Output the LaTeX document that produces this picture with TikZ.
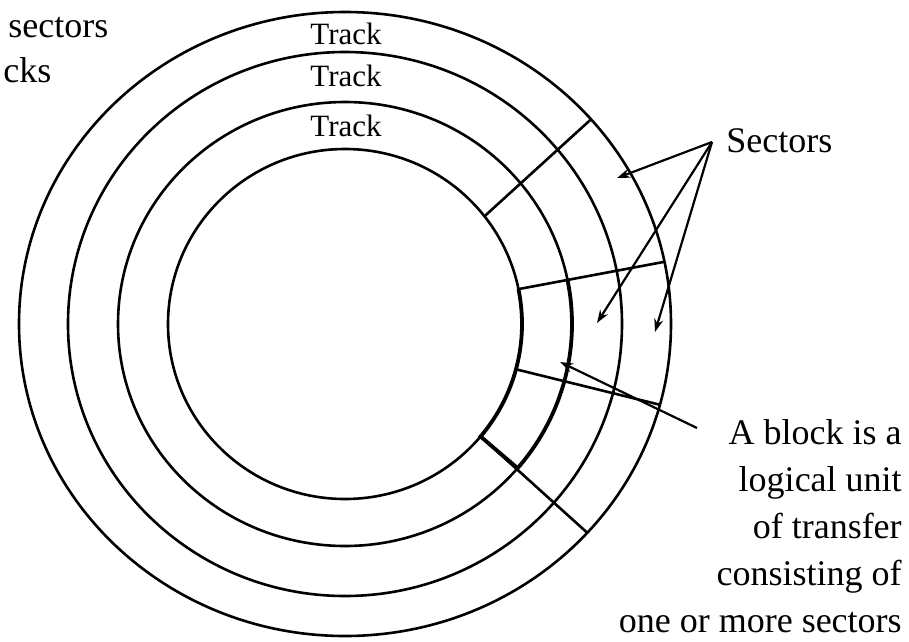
\documentclass[tikz,border=0pt]{standalone}
\usepackage{fontspec}
\setmainfont{Liberation Serif}
\usetikzlibrary{arrows.meta}

\begin{document}
\begin{tikzpicture}[x=1pt, y=1pt, line width=2.6pt,
		ptr/.style={-{Stealth[length=13pt, width=9pt]}, line width=2.2pt},
		blk/.style={line width=3.8pt},
		tracklbl/.style={font=\fontsize{31}{31}\selectfont, inner sep=0pt},
		note/.style={font=\fontsize{36}{47}\selectfont, inner sep=0pt}]
		\useasboundingbox (-345,-317) rectangle (564,324);

		% Tracks
		\foreach \rx/\ry in {177/175, 227/222, 277/272, 326/312}
		\draw (0,0) ellipse [x radius=\rx, y radius=\ry];

		% Sector boundaries
		\foreach \a/\b in {38/41, 11.5/11.5, -15/-15, -40/-42}
		\draw ({177*cos(\a)}, {175*sin(\a)}) -- ({326*cos(\b)}, {312*sin(\b)});

		% Block = two sectors of the inner track
		\draw[blk] ({177*cos(11.5)}, {175*sin(11.5)})
		arc [start angle=11.5, end angle=-40, x radius=177, y radius=175]
		-- ({227*cos(-40.5)}, {222*sin(-40.5)})
		arc [start angle=-40.5, end angle=11.5, x radius=227, y radius=222];

		% Track labels
		\node[tracklbl, anchor=base] (track1) at (1,280) {Track};
		\node[tracklbl, anchor=base] (track2) at (1,238) {Track};
		\node[tracklbl, anchor=base] (track3) at (1,188) {Track};

		% Cut-off text, top left
		\node[note, anchor=base west] (cut1) at (-338,287) {sectors};
		\node[note, anchor=base west] (cut2) at (-343,242) {cks};

		% Sectors
		\node[note, anchor=base west] (sec) at (380,172) {Sectors};
		\coordinate (secfrom) at (367,182);
		\coordinate (sec1) at (272,146);
		\coordinate (sec2) at (252,1);
		\coordinate (sec3) at (310,-8);
		\draw[ptr] (secfrom) -- (sec1);
		\draw[ptr] (secfrom) -- (sec2);
		\draw[ptr] (secfrom) -- (sec3);

		% Block
		\node[note, anchor=north east, align=right] (blocknote) at (558,-94)
		{A block is a\\ logical unit\\ of transfer\\ consisting of\\ one or more sectors};
		\coordinate (blkfrom) at (352,-104);
		\coordinate (blkto) at (215,-38);
		\draw[ptr] (blkfrom) -- (blkto);
	\end{tikzpicture}
\end{document}
